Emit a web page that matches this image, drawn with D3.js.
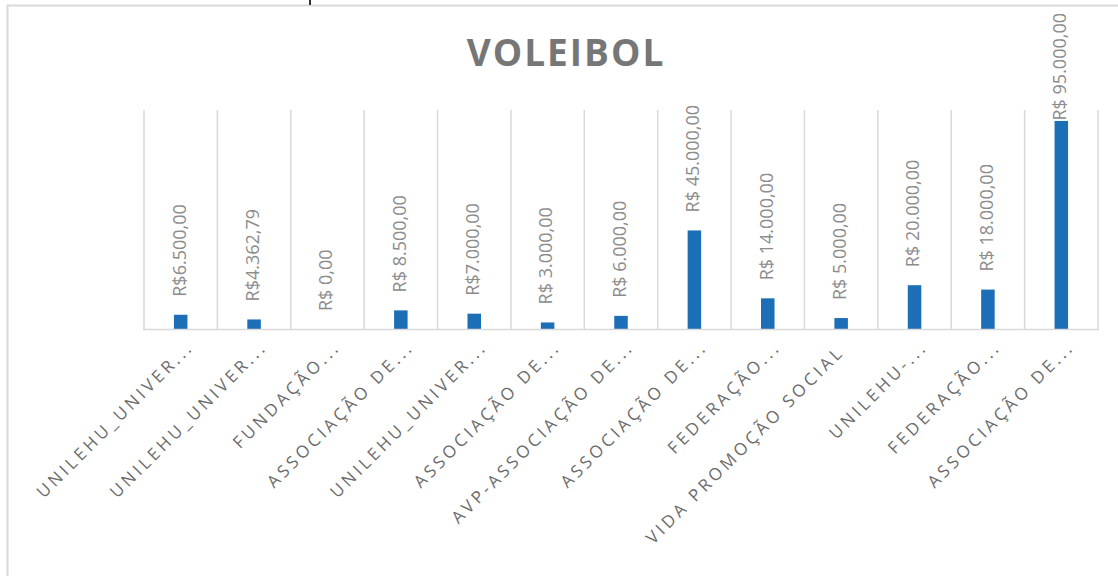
<!DOCTYPE html>
<html>
<head>
<meta charset="utf-8">
<script src="https://cdn.jsdelivr.net/npm/d3@7"></script>
<style>
  body { margin: 0; background: #fff; }
  svg { display: block; font-family: "Open Sans", sans-serif; }
</style>
</head>
<body>
<div id="chart"></div>
<script>
// chart data
const categories = [
  "UNILEHU_UNIVER...", "UNILEHU_UNIVER...", "FUNDAÇÃO...", "ASSOCIAÇÃO DE...",
  "UNILEHU_UNIVER...", "ASSOCIAÇÃO DE...", "AVP-ASSOCIAÇÃO DE...", "ASSOCIAÇÃO DE...",
  "FEDERAÇÃO...", "VIDA PROMOÇÃO SOCIAL", "UNILEHU-...", "FEDERAÇÃO...", "ASSOCIAÇÃO DE..."
];
const values = [6500, 4362.79, 0, 8500, 7000, 3000, 6000, 45000, 14000, 5000, 20000, 18000, 95000];
const valueLabels = [
  "R$6.500,00", "R$4.362,79", "R$ 0,00", "R$ 8.500,00", "R$7.000,00", "R$ 3.000,00",
  "R$ 6.000,00", "R$ 45.000,00", "R$ 14.000,00", "R$ 5.000,00", "R$ 20.000,00",
  "R$ 18.000,00", "R$ 95.000,00"
];
const yMax = 100000;

const width = 1118, height = 576;
const plot = { left: 144, right: 1098, top: 110, bottom: 329 };
const barColor = "#1c6eb7";
const gridColor = "#d9d9d9";

const svg = d3.select("#chart").append("svg")
  .attr("width", width)
  .attr("height", height);

// outer chart frame (only left and top edges visible)
svg.append("path")
  .attr("d", `M7.5,${height} V5.5 H${width}`)
  .attr("fill", "none")
  .attr("stroke", gridColor)
  .attr("stroke-width", 2);

// small dark mark at the top edge
svg.append("line")
  .attr("x1", 310).attr("x2", 310)
  .attr("y1", 0).attr("y2", 5)
  .attr("stroke", "#333")
  .attr("stroke-width", 2);

// title
svg.append("text")
  .attr("x", 566)
  .attr("y", 66)
  .attr("text-anchor", "middle")
  .attr("fill", "#767676")
  .attr("font-weight", "bold")
  .attr("font-size", 37)
  .attr("letter-spacing", 2)
  .text("VOLEIBOL");

const x = d3.scaleBand()
  .domain(d3.range(categories.length))
  .range([plot.left, plot.right]);

const y = d3.scaleLinear()
  .domain([0, yMax])
  .range([plot.bottom, plot.top]);

// vertical gridlines between categories
const edges = d3.range(categories.length + 1).map(i => plot.left + i * x.step());
svg.append("g")
  .selectAll("line")
  .data(edges)
  .join("line")
  .attr("x1", d => d).attr("x2", d => d)
  .attr("y1", plot.top).attr("y2", plot.bottom)
  .attr("stroke", gridColor)
  .attr("stroke-width", 1.5);

// bars
const barW = 13.5;
svg.append("g")
  .selectAll("rect")
  .data(values)
  .join("rect")
  .attr("x", (d, i) => x(i) + x.bandwidth() / 2 - barW / 2)
  .attr("y", d => y(d))
  .attr("width", barW)
  .attr("height", d => plot.bottom - y(d))
  .attr("fill", barColor);

// baseline axis
svg.append("line")
  .attr("x1", plot.left - 1).attr("x2", plot.right + 1)
  .attr("y1", plot.bottom + 0.5).attr("y2", plot.bottom + 0.5)
  .attr("stroke", gridColor)
  .attr("stroke-width", 1.5);

// value labels, rotated
const labels = svg.append("g")
  .selectAll("text")
  .data(values)
  .join("text")
  .attr("fill", "#8c8c8c")
  .attr("font-size", 18)
  .attr("dominant-baseline", "middle")
  .text((d, i) => valueLabels[i]);

labels.each(function(d, i) {
  const len = this.getComputedTextLength();
  const cx = x(i) + x.bandwidth() / 2;
  const base = Math.max(y(d) - 18, 13 + len);
  d3.select(this).attr("transform", `translate(${cx},${base}) rotate(-90)`);
});

// category labels, rotated -45 (full-length labels sit a little lower)
svg.append("g")
  .selectAll("text")
  .data(categories)
  .join("text")
  .attr("fill", "#6b6b6b")
  .attr("font-size", 17)
  .attr("letter-spacing", 3.5)
  .attr("text-anchor", "end")
  .attr("transform", (d, i) => {
    const full = !d.endsWith("...");
    const ax = x(i) + x.bandwidth() / 2 + (full ? 4 : 14);
    const ay = plot.bottom + (full ? 24 : 19);
    return `translate(${ax},${ay}) rotate(-45)`;
  })
  .text(d => d);
</script>
</body>
</html>
